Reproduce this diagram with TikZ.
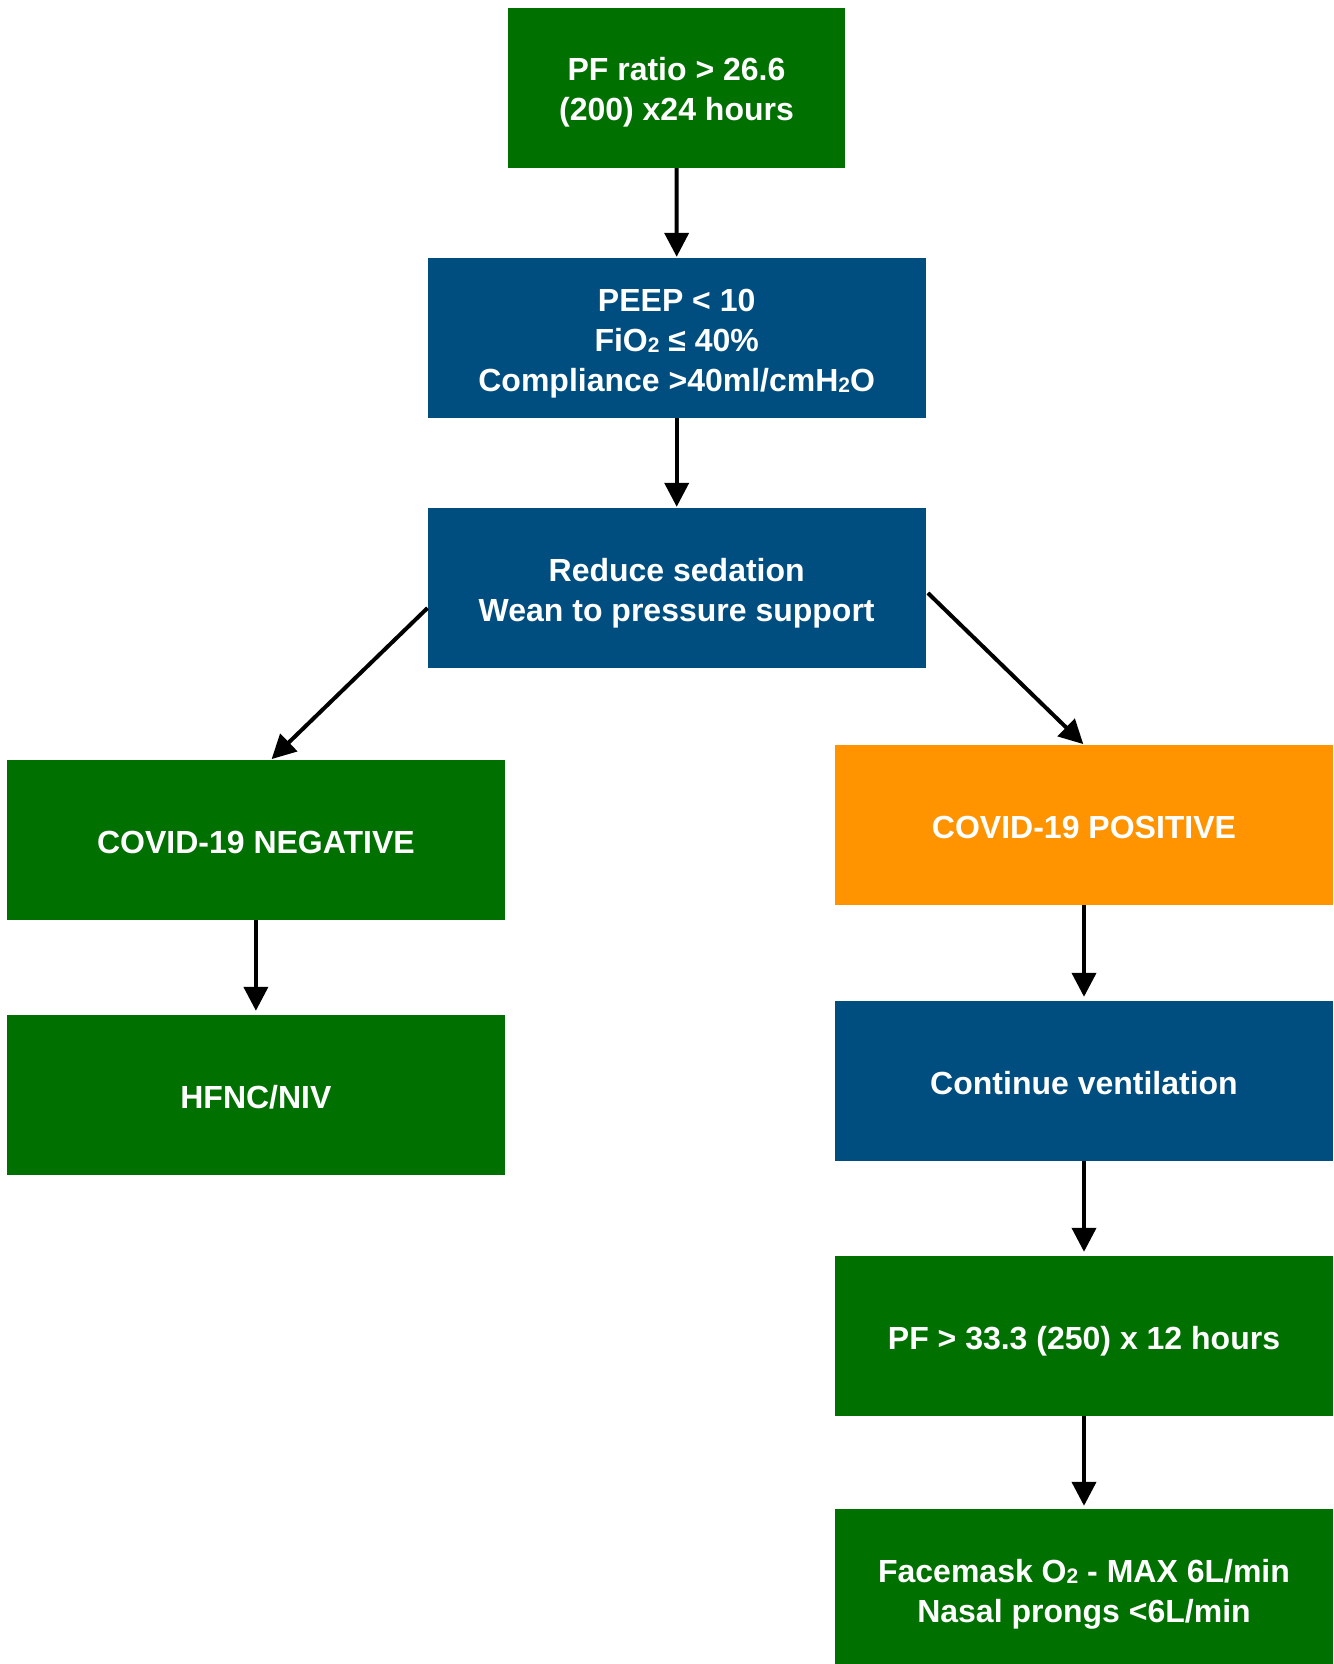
\documentclass[tikz,border=0pt]{standalone}
\usepackage{fontspec}
\setmainfont{Liberation Sans}
\usetikzlibrary{arrows.meta}
\definecolor{cgreen}{RGB}{0,112,0}
\definecolor{cblue}{RGB}{0,77,127}
\definecolor{corange}{RGB}{255,147,0}
\newcommand{\lw}[1]{\raisebox{-5pt}[\height][\depth]{\begin{tabular}{@{}c@{}}#1\end{tabular}}}
\newcommand{\sbt}{\raisebox{-1pt}{\fontsize{21}{21}\selectfont 2}}
\tikzset{
  boxbase/.style={inner sep=0pt, align=center, text=white,
    font=\fontsize{32}{40}\selectfont\bfseries},
  gbox/.style={boxbase, fill=cgreen},
  bbox/.style={boxbase, fill=cblue},
  obox/.style={boxbase, fill=corange},
  wide/.style={minimum width=498pt, minimum height=160pt},
  arr/.style={line width=4pt, -{Triangle[length=24pt,width=24pt]}, shorten >=1pt}
}
\begin{document}
\begin{tikzpicture}[x=1pt,y=-1pt]
\useasboundingbox (0,0) rectangle (1333,1664);
\node[gbox, minimum width=337pt, minimum height=160pt] (b1) at (676.5,88) {\lw{PF ratio > 26.6\\(200) x24 hours}};
\node[bbox, wide] (b2) at (676.7,338) {\lw{PEEP < 10\\FiO\sbt{} ≤ 40\%\\Compliance >40ml/cmH\sbt O}};
\node[bbox, wide] (b3) at (676.7,588) {\lw{Reduce sedation\\Wean to pressure support}};
\node[gbox, wide] (neg) at (255.9,840) {\lw{COVID-19 NEGATIVE}};
\node[gbox, wide] (hfnc) at (255.9,1095) {\lw{HFNC/NIV}};
\node[obox, wide] (pos) at (1084,825) {\lw{COVID-19 POSITIVE}};
\node[bbox, wide] (cont) at (1084,1081) {\lw{Continue ventilation}};
\node[gbox, wide] (pf) at (1084,1336) {\lw{PF > 33.3 (250) x 12 hours}};
\node[gbox, wide] (face) at (1084,1589) {\lw{Facemask O\sbt{} - MAX 6L/min\\Nasal prongs <6L/min}};
\draw[arr] (b1.south) -- (b2.north);
\draw[arr] (b2.south) -- (b3.north);
\draw[arr] ([yshift=-20pt]b3.west) -- ([xshift=15pt]neg.north);
\draw[arr] ([yshift=-5pt,xshift=2pt]b3.east) -- (pos.north);
\draw[arr] (neg.south) -- ([yshift=3pt]hfnc.north);
\draw[arr] (pos.south) -- ([yshift=3pt]cont.north);
\draw[arr] (cont.south) -- ([yshift=3pt]pf.north);
\draw[arr] (pf.south) -- ([yshift=2pt]face.north);
\end{tikzpicture}
\end{document}
